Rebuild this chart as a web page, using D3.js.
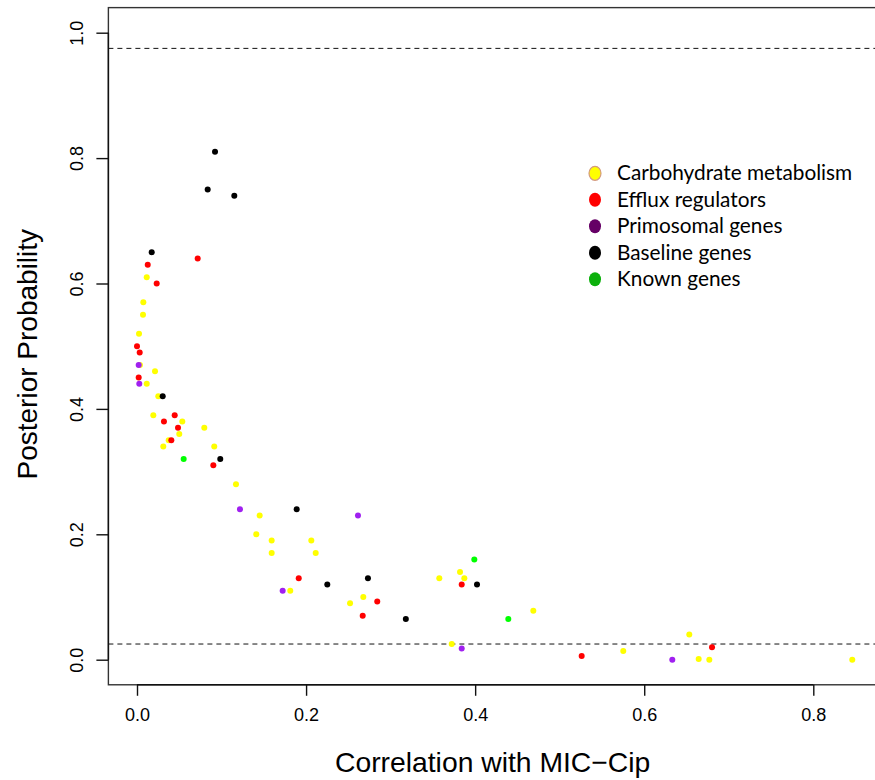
<!DOCTYPE html>
<html>
<head>
<meta charset="utf-8">
<script src="https://cdn.jsdelivr.net/npm/d3@7"></script>
<style>
  html, body { margin: 0; padding: 0; background: #fff; }
  svg { display: block; }
</style>
</head>
<body>
<svg id="chart" width="875" height="780"></svg>
<script>
// ---- Data ----
const categories = ["Carbohydrate metabolism", "Efflux regulators", "Primosomal genes", "Baseline genes", "Known genes"];

const carbX = [0.0115, 0.0075, 0.0071, 0.0024, 0.0035, 0.0213, 0.0115, 0.0252, 0.0193, 0.0536, 0.0796, 0.050, 0.0375, 0.0914, 0.0311,
               0.1171, 0.1451, 0.1411, 0.1593, 0.2062, 0.1593, 0.2114, 0.1813, 0.252, 0.2677, 0.3576, 0.3821, 0.3872, 0.3723,
               0.4688, 0.5752, 0.6533, 0.6644, 0.677, 0.8461];
const carbY = [0.61, 0.57, 0.55, 0.52, 0.47, 0.46, 0.44, 0.42, 0.39, 0.38, 0.37, 0.36, 0.35, 0.34, 0.34,
               0.28, 0.23, 0.20, 0.19, 0.19, 0.17, 0.17, 0.11, 0.09, 0.10, 0.13, 0.14, 0.13, 0.025,
               0.078, 0.014, 0.04, 0.001, 0.0, 0.0];

const effluxX = [0.0718, 0.0127, 0.0233, 0.0, 0.0032, 0.002, 0.0446, 0.0319, 0.0485, 0.0406, 0.0903, 0.1913, 0.2842, 0.267, 0.3841, 0.526, 0.6802];
const effluxY = [0.64, 0.63, 0.60, 0.50, 0.49, 0.45, 0.39, 0.38, 0.37, 0.35, 0.31, 0.13, 0.093, 0.07, 0.12, 0.006, 0.02];

const primoX = [0.002, 0.0027, 0.1218, 0.2614, 0.1723, 0.3841, 0.6332];
const primoY = [0.47, 0.44, 0.24, 0.23, 0.11, 0.018, 0.0];

const baseX = [0.0923, 0.0836, 0.1151, 0.0174, 0.0304, 0.0985, 0.1889, 0.2251, 0.2732, 0.318, 0.4022];
const baseY = [0.81, 0.75, 0.74, 0.65, 0.42, 0.32, 0.24, 0.12, 0.13, 0.065, 0.12];

const knownX = [0.0552, 0.399, 0.4392];
const knownY = [0.32, 0.16, 0.065];

const xTicks = [0.0, 0.2, 0.4, 0.6, 0.8];
const yTicks = [0.0, 0.2, 0.4, 0.6, 0.8, 1.0];
const thresholds = [0.975, 0.025];

const pointColors = ["#ffff00", "#ff0000", "#a020f0", "#000000", "#00ff00"];
const legendColors = ["#ffff00", "#ff0000", "#660066", "#000000", "#0cb00c"];

// ---- Scales ----
const svg = d3.select("#chart");
const x = d3.scaleLinear().domain([0, 0.8]).range([137, 813.3]);
const y = d3.scaleLinear().domain([0, 1]).range([659.7, 32.7]);

const allX = [].concat(carbX, effluxX, primoX, baseX, knownX);
const xMin = d3.min(allX), xMax = d3.max(allX);
const xPad = 0.04 * (xMax - xMin);
const usrX = [xMin - xPad, xMax + xPad];
const usrY = [0 - 0.04, 1 + 0.04];

const pLeft = x(usrX[0]), pRight = x(usrX[1]);
const pTop = y(usrY[1]), pBottom = y(usrY[0]);

// threshold dashed lines
svg.selectAll("line.thr").data(thresholds).enter().append("line")
  .attr("class", "thr")
  .attr("x1", pLeft).attr("x2", pRight)
  .attr("y1", d => y(d)).attr("y2", d => y(d))
  .attr("stroke", "#111").attr("stroke-width", 1)
  .attr("stroke-dasharray", "5,4");

// points
const series = [
  {xs: carbX, ys: carbY, c: pointColors[0]},
  {xs: effluxX, ys: effluxY, c: pointColors[1]},
  {xs: primoX, ys: primoY, c: pointColors[2]},
  {xs: baseX, ys: baseY, c: pointColors[3]},
  {xs: knownX, ys: knownY, c: pointColors[4]}
];
series.forEach(s => {
  svg.append("g").selectAll("circle").data(s.xs.map((v, i) => [v, s.ys[i]])).enter()
    .append("circle")
    .attr("cx", d => x(d[0])).attr("cy", d => y(d[1]))
    .attr("r", 3).attr("fill", s.c);
});

// box
svg.append("rect")
  .attr("x", pLeft).attr("y", pTop)
  .attr("width", pRight - pLeft).attr("height", pBottom - pTop)
  .attr("fill", "none").attr("stroke", "#333").attr("stroke-width", 1.4);

// x axis
const xAxis = svg.append("g").attr("transform", `translate(0,${pBottom})`)
  .call(d3.axisBottom(x).tickValues(xTicks).tickFormat(d3.format(".1f")).tickSize(11).tickPadding(12));
xAxis.select(".domain").attr("stroke", "#111").attr("stroke-width", 1.4)
  .attr("d", `M${x(xTicks[0])},0H${x(xTicks[xTicks.length-1])}`);
xAxis.selectAll(".tick line").attr("stroke", "#111").attr("stroke-width", 1.4);
xAxis.selectAll(".tick text").attr("font-family", "Liberation Sans, Arial, sans-serif")
  .attr("font-size", 18).attr("fill", "#000");

// y axis
const yAxis = svg.append("g").attr("transform", `translate(${pLeft},0)`)
  .call(d3.axisLeft(y).tickValues(yTicks).tickFormat(d3.format(".1f")).tickSize(12));
yAxis.select(".domain").attr("stroke", "#111").attr("stroke-width", 1.4)
  .attr("d", `M0,${y(yTicks[0])}V${y(yTicks[yTicks.length-1])}`);
yAxis.selectAll(".tick line").attr("stroke", "#111").attr("stroke-width", 1.4);
yAxis.selectAll(".tick text")
  .attr("font-family", "Liberation Sans, Arial, sans-serif")
  .attr("font-size", 18).attr("fill", "#000")
  .attr("x", null).attr("dy", null)
  .attr("text-anchor", "middle")
  .attr("transform", `translate(${83 - pLeft},0) rotate(-90)`);

// axis titles
svg.append("text")
  .attr("x", (pLeft + pRight) / 2 - 2).attr("y", 772)
  .attr("text-anchor", "middle")
  .attr("font-family", "Liberation Sans, Arial, sans-serif")
  .attr("font-size", 28.3).attr("fill", "#000")
  .text("Correlation with MIC\u2212Cip");

svg.append("text")
  .attr("transform", `translate(37,${(pTop + pBottom) / 2 + 8}) rotate(-90)`)
  .attr("text-anchor", "middle")
  .attr("font-family", "Liberation Sans, Arial, sans-serif")
  .attr("font-size", 28).attr("fill", "#000")
  .text("Posterior Probability");

// legend
const leg = svg.append("g");
const legItems = leg.selectAll("g").data(categories).enter().append("g")
  .attr("transform", (d, i) => `translate(595,${173.3 + i * 26.5})`);
legItems.append("ellipse")
  .attr("rx", 6).attr("ry", 7)
  .attr("fill", (d, i) => legendColors[i])
  .attr("stroke", (d, i) => i === 0 ? "#d49a80" : "none")
  .attr("stroke-width", 1.2);
legItems.append("text")
  .attr("x", 22).attr("y", 7)
  .attr("font-family", "Lato, 'Open Sans', sans-serif")
  .attr("font-size", 20.8).attr("fill", "#000")
  .text(d => d);
</script>
</body>
</html>
